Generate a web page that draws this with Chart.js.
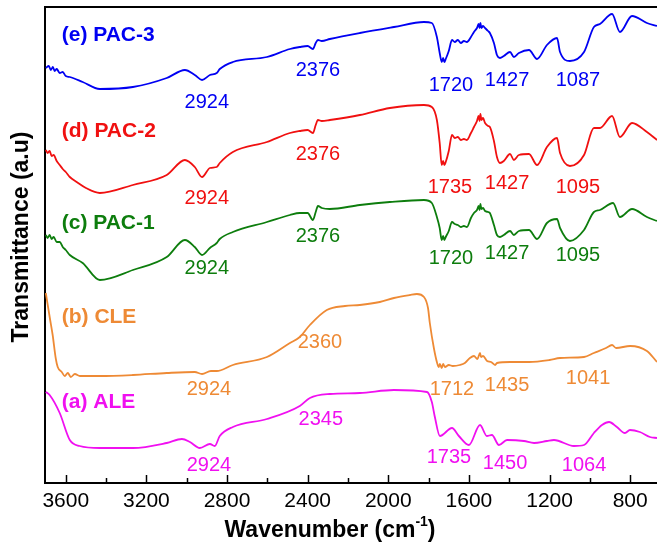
<!DOCTYPE html>
<html>
<head>
<meta charset="utf-8">
<script src="https://cdn.jsdelivr.net/npm/chart.js@4.4.1/dist/chart.umd.min.js"></script>
<style>
  html, body { margin: 0; padding: 0; background: #fff; overflow: hidden; }
</style>
</head>
<body>
<canvas id="ftirChart" width="657" height="546"></canvas>
<script>
// Spectres FTIR (unités arbitraires décalées)
const seriesNames = ['(e) PAC-3', '(d) PAC-2', '(c) PAC-1', '(b) CLE', '(a) ALE'];
const seriesColors = ['#0000f2', '#f01010', '#0d7d0d', '#ee8a35', '#f010f0'];

const xTicks = [3600, 3200, 2800, 2400, 2000, 1600, 1200, 800];
const xMinorTicks = [3400, 3000, 2600, 2200, 1800, 1400, 1000];

// (e) PAC-3
const wnPAC3 = [3699,3684,3674,3664,3655,3645,3630,3615,3600,3580,3516,3431,3267,3099,3009,2960,2924,2885,2851,2836,2771,2602,2488,2439,2400,2374,2360,2349,2330,2290,2141,1972,1823,1784,1759,1745,1735,1728,1722,1715,1700,1684,1670,1655,1640,1625,1610,1590,1575,1560,1552,1547,1543,1538,1530,1520,1505,1496,1476,1461,1446,1427,1396,1377,1352,1302,1262,1213,1163,1148,1099,1029,980,950,890,851,791,717,667];
const tPAC3 = [415,417,413,416,412,414,410,411,407,406,401,394,396,405,413,408,403,408,410,414,421,426,434,436,437,434,440,443,442,444,450,456,461,460,446,430,421,425,421,424,432,443,441,443,440,442,441,446,451,455,459,455,460,455,457,455,452,450,440,428,425,427,431,426,430,433,424,438,445,431,422,431,456,459,469,451,467,460,457];

// (d) PAC-2
const wnPAC2 = [3699,3690,3680,3670,3660,3645,3630,3615,3600,3580,3546,3500,3431,3267,3099,3009,2960,2924,2885,2851,2836,2771,2602,2488,2439,2400,2374,2360,2349,2330,2290,2141,1992,1823,1784,1759,1745,1735,1728,1722,1715,1700,1684,1670,1655,1640,1625,1610,1590,1575,1560,1552,1547,1543,1538,1530,1520,1505,1496,1476,1461,1446,1427,1396,1377,1352,1302,1262,1213,1163,1148,1099,1029,980,950,890,851,791,717,667];
const tPAC2 = [333,330,332,327,328,322,318,314,311,306,301,295,290,298,308,323,316,306,315,316,320,331,341,350,352,353,350,358,363,362,363,368,375,378,376,363,340,318,322,318,321,332,348,345,346,343,344,343,350,356,362,367,362,369,363,365,360,357,356,342,326,320,322,329,323,328,329,318,336,345,330,317,328,355,355,367,346,360,351,343];

// (c) PAC-1
const wnPAC1 = [3699,3690,3680,3670,3660,3645,3630,3615,3600,3580,3516,3431,3267,3099,3009,2960,2924,2885,2851,2836,2771,2602,2488,2439,2400,2374,2360,2349,2330,2290,2141,1992,1823,1784,1759,1745,1735,1728,1722,1715,1700,1684,1670,1655,1640,1625,1610,1590,1575,1560,1552,1547,1543,1538,1530,1520,1505,1496,1476,1461,1446,1427,1396,1377,1352,1302,1262,1213,1163,1148,1099,1029,980,950,885,851,791,717,667];
const tPAC1 = [248,245,248,244,246,241,241,236,233,228,220,203,213,226,243,236,228,235,240,244,251,261,268,270,270,263,271,277,275,274,278,281,283,280,266,255,243,247,243,246,252,261,259,258,256,257,256,265,270,273,277,273,279,274,275,272,271,270,258,248,246,248,252,248,252,253,244,260,264,255,242,253,271,273,280,266,274,266,262];

// (b) CLE
const wnCLE = [3699,3679,3665,3650,3640,3620,3605,3590,3575,3555,3530,3431,3267,3099,2960,2924,2880,2851,2771,2602,2488,2439,2389,2305,2215,2141,2042,1972,1893,1858,1823,1803,1794,1774,1759,1750,1744,1735,1728,1719,1700,1680,1645,1620,1595,1575,1558,1545,1540,1530,1510,1490,1470,1461,1396,1302,1200,1148,1029,980,920,890,870,800,717,667];
const tCLE = [190,165,148,125,116,111,107,110,106,109,107,107,108,110,111,109,112,112,118,126,140,146,158,173,177,178,181,185,188,189,186,175,160,135,121,116,119,115,119,116,118,117,118,120,125,127,124,130,126,127,122,121,118,120,121,121,123,125,126,130,135,138,135,137,132,121];

// (a) ALE
const wnALE = [3699,3680,3630,3580,3531,3431,3267,3099,3024,2984,2935,2885,2861,2836,2771,2602,2439,2389,2290,2141,1972,1808,1784,1769,1744,1684,1650,1600,1545,1511,1486,1451,1411,1327,1277,1213,1178,1079,1029,980,940,905,866,826,801,752,702,667];
const tALE = [91,88,70,43,37,35,35,40,44,41,35,39,37,47,56,64,77,85,89,90,93,91,81,66,47,55,47,38,58,47,48,38,43,42,40,42,43,37,38,50,58,61,56,50,53,51,46,45];

// Étiquettes des bandes
const peaksPAC3 = ['2924', '2376', '1720', '1427', '1087'];
const peaksPAC2 = ['2924', '2376', '1735', '1427', '1095'];
const peaksPAC1 = ['2924', '2376', '1720', '1427', '1095'];
const peaksCLE = ['2924', '2360', '1712', '1435', '1041'];
const peaksALE = ['2924', '2345', '1735', '1450', '1064'];

const allWn = [wnPAC3, wnPAC2, wnPAC1, wnCLE, wnALE];
const allT = [tPAC3, tPAC2, tPAC1, tCLE, tALE];
const allPeaks = [peaksPAC3, peaksPAC2, peaksPAC1, peaksCLE, peaksALE];

// placement des textes (nombre d'onde, ordonnée)
const peakAnchors = [
    [[2900, 381], [2349, 413], [1689, 398], [1411, 403], [1059, 403]],
    [[2900, 285], [2349, 329], [1694, 296], [1411, 300], [1059, 296]],
    [[2900, 215], [2349, 247], [1689, 225], [1411, 230], [1059, 228]],
    [[2890, 94], [2339, 141], [1684, 94], [1411, 98], [1009, 105]],
    [[2890, 18], [2335, 64], [1699, 26], [1421, 20], [1029, 18]]
];
const nameAnchors = [[3620, 448], [3620, 352], [3620, 260], [3620, 166], [3620, 81]];

const FONT = "'Liberation Sans', Arial, sans-serif";

const annotate = {
    id: 'annotate',
    afterDraw(chart) {
        const { ctx, chartArea: a, scales: { x, y } } = chart;
        ctx.save();

        // cadre du haut
        ctx.strokeStyle = '#000';
        ctx.lineWidth = 2;
        ctx.beginPath();
        ctx.moveTo(a.left - 1, a.top);
        ctx.lineTo(a.right, a.top);
        ctx.stroke();

        // graduations vers l'intérieur
        ctx.lineWidth = 1.5;
        xTicks.forEach(v => {
            const px = Math.round(x.getPixelForValue(v)) + 0.5;
            ctx.beginPath(); ctx.moveTo(px, a.bottom); ctx.lineTo(px, a.bottom - 8); ctx.stroke();
        });
        xMinorTicks.forEach(v => {
            const px = Math.round(x.getPixelForValue(v)) + 0.5;
            ctx.beginPath(); ctx.moveTo(px, a.bottom); ctx.lineTo(px, a.bottom - 5); ctx.stroke();
        });

        // noms des séries
        ctx.textBaseline = 'middle';
        ctx.textAlign = 'left';
        ctx.font = 'bold 21px ' + FONT;
        seriesNames.forEach((name, i) => {
            ctx.fillStyle = seriesColors[i];
            ctx.fillText(name, x.getPixelForValue(nameAnchors[i][0]), y.getPixelForValue(nameAnchors[i][1]));
        });

        // bandes
        ctx.textAlign = 'center';
        ctx.font = '20px ' + FONT;
        allPeaks.forEach((labels, i) => {
            ctx.fillStyle = seriesColors[i];
            labels.forEach((txt, j) => {
                const p = peakAnchors[i][j];
                ctx.fillText(txt, x.getPixelForValue(p[0]), y.getPixelForValue(p[1]));
            });
        });

        // titres des axes
        ctx.fillStyle = '#000';
        ctx.font = 'bold 23px ' + FONT;
        const main = 'Wavenumber (cm';
        const sup = '-1';
        const close = ')';
        const wMain = ctx.measureText(main).width;
        const wClose = ctx.measureText(close).width;
        ctx.font = 'bold 14px ' + FONT;
        const wSup = ctx.measureText(sup).width;
        const total = wMain + wSup + wClose;
        let tx = 330 - total / 2;
        const ty = 531;
        ctx.textAlign = 'left';
        ctx.font = 'bold 23px ' + FONT;
        ctx.fillText(main, tx, ty);
        ctx.font = 'bold 14px ' + FONT;
        ctx.fillText(sup, tx + wMain, ty - 9);
        ctx.font = 'bold 23px ' + FONT;
        ctx.fillText(close, tx + wMain + wSup, ty);

        ctx.translate(22, 237);
        ctx.rotate(-Math.PI / 2);
        ctx.textAlign = 'center';
        ctx.fillText('Transmittance (a.u)', 0, 0);

        ctx.restore();
    }
};

const datasets = seriesNames.map((name, i) => ({
    label: name,
    data: allWn[i].map((w, k) => ({ x: w, y: allT[i][k] })),
    borderColor: seriesColors[i],
    borderWidth: 1.8,
    pointRadius: 0,
    fill: false,
    cubicInterpolationMode: 'monotone'
}));

new Chart(document.getElementById('ftirChart'), {
    type: 'line',
    data: { datasets: datasets },
    options: {
        responsive: false,
        animation: false,
        devicePixelRatio: 1,
        layout: { padding: { top: 7, right: 0, left: 0, bottom: 0 } },
        plugins: {
            legend: { display: false },
            tooltip: { enabled: false }
        },
        scales: {
            x: {
                type: 'linear',
                reverse: true,
                min: 667,
                max: 3703,
                afterBuildTicks: s => { s.ticks = xTicks.map(v => ({ value: v })); },
                afterFit: s => { s.height = 63; s.paddingLeft = 0; s.paddingRight = 0; },
                grid: { display: false, drawTicks: false },
                border: { display: true, color: '#000', width: 2 },
                ticks: {
                    color: '#000',
                    font: { family: FONT, size: 21 },
                    padding: 6,
                    maxRotation: 0,
                    autoSkip: false,
                    callback: v => String(v)
                }
            },
            y: {
                min: 0,
                max: 476,
                afterFit: s => { s.width = 45; },
                ticks: { display: false },
                grid: { display: false, drawTicks: false },
                border: { display: true, color: '#000', width: 2 }
            }
        }
    },
    plugins: [annotate]
});
</script>
</body>
</html>
